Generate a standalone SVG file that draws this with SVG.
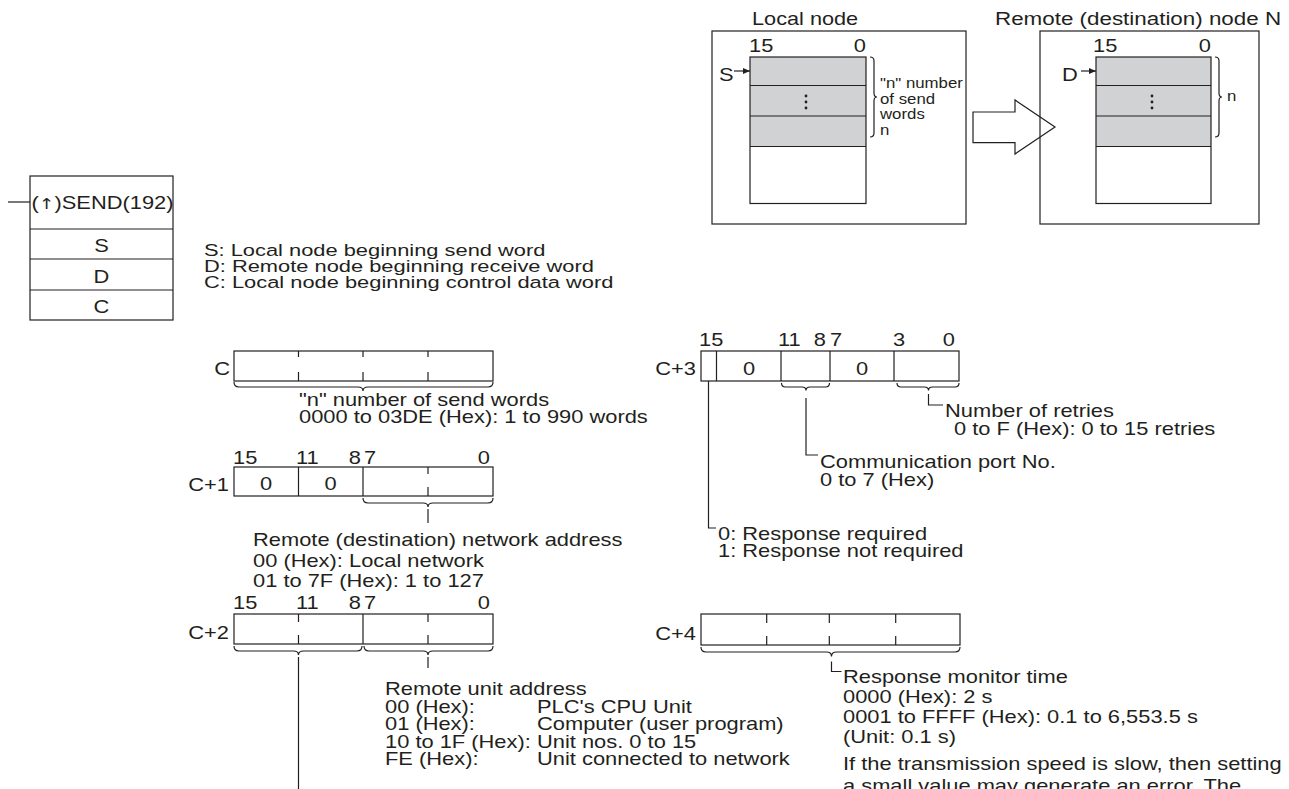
<svg xmlns="http://www.w3.org/2000/svg" width="1289" height="789" viewBox="0 0 1289 789">
<defs>
<style>
.t{font-family:"Liberation Sans",Arial,"DejaVu Sans",sans-serif;font-size:17.5px;fill:#231f20}
.s{font-size:14px}
.d{font-size:16.5px}
.e{text-anchor:end}
.m{text-anchor:middle}
.ln{stroke:#231f20;stroke-width:1.2;fill:none}
.bx{stroke:#231f20;stroke-width:1.2;fill:#fff}
.g{fill:#d1d2d4}
.dot{fill:#231f20}
.ar{font-family:"DejaVu Sans",sans-serif;font-size:15px}
</style>
<marker id="ah" markerWidth="7" markerHeight="6" refX="7" refY="3" orient="auto" markerUnits="userSpaceOnUse"><path d="M0,0 L7,3 L0,6 z" fill="#231f20"/></marker>
</defs>
<rect width="1289" height="789" fill="#fff"/>

<g id="local-node">
<text class="t" transform="translate(752 25) scale(1.24 1)">Local node</text>
<rect class="bx" x="712" y="31" width="254" height="193"/>
<rect class="g" x="750" y="57" width="116" height="89.5"/>
<rect class="ln" x="750" y="57" width="116" height="146.5"/>
<path class="ln" d="M750 85.5H866M750 116H866M750 146.5H866"/>
<text class="t" transform="translate(749 52) scale(1.25 1)">15</text>
<text class="t e" transform="translate(866 52) scale(1.25 1)">0</text>
<text class="t" transform="translate(719 81) scale(1.25 1)">S</text>
<circle class="dot" cx="806" cy="96" r="1.4"/><circle class="dot" cx="806" cy="102" r="1.4"/><circle class="dot" cx="806" cy="108" r="1.4"/>
<path class="ln" d="M870 57Q874 57 874 61L874 93Q874 97 877 97Q874 97 874 101L874 133Q874 137 870 137"/>
<text class="t s" transform="translate(880 88) scale(1.2 1)">"n" number</text>
<text class="t s" transform="translate(880 103.5) scale(1.2 1)">of send</text>
<text class="t s" transform="translate(880 119) scale(1.2 1)">words</text>
<text class="t s" transform="translate(880 135) scale(1.2 1)">n</text>
</g>

<g id="remote-node">
<text class="t" transform="translate(995 25) scale(1.28 1)">Remote (destination) node N</text>
<rect class="ln" x="1040" y="31" width="219" height="193"/>
<rect class="g" x="1096" y="57" width="115" height="89.5"/>
<rect class="ln" x="1096" y="57" width="115" height="146.5"/>
<path class="ln" d="M1096 85.5H1211M1096 116H1211M1096 146.5H1211"/>
<text class="t" transform="translate(1093 52) scale(1.25 1)">15</text>
<text class="t e" transform="translate(1211 52) scale(1.25 1)">0</text>
<text class="t" transform="translate(1062 81) scale(1.25 1)">D</text>
<circle class="dot" cx="1152" cy="96" r="1.4"/><circle class="dot" cx="1152" cy="102" r="1.4"/><circle class="dot" cx="1152" cy="108" r="1.4"/>
<path class="ln" d="M1215 57Q1219 57 1219 61L1219 93Q1219 97 1222 97Q1219 97 1219 101L1219 133Q1219 137 1215 137"/>
<text class="t s" transform="translate(1227 101) scale(1.2 1)">n</text>
</g>

<g id="send-instruction">
<rect class="bx" x="30" y="176" width="143" height="144"/>
<path class="ln" d="M30 229H173M30 259H173M30 290H173"/>
<text class="t" transform="translate(31.5 209) scale(1.25 1)">(<tspan class="ar">↑</tspan>)SEND(192)</text>
<text class="t m" transform="translate(101.5 252) scale(1.25 1)">S</text>
<text class="t m" transform="translate(101.5 282.5) scale(1.25 1)">D</text>
<text class="t m" transform="translate(101.5 313) scale(1.25 1)">C</text>
</g>

<g id="operand-descriptions">
<text class="t d" transform="translate(204 255.5) scale(1.325 1)">S: Local node beginning send word</text>
<text class="t d" transform="translate(204 271.5) scale(1.325 1)">D: Remote node beginning receive word</text>
<text class="t d" transform="translate(204 287.5) scale(1.325 1)">C: Local node beginning control data word</text>
</g>

<g id="word-c">
<text class="t e" transform="translate(230 375) scale(1.25 1)">C</text>
<rect class="ln" x="234" y="351" width="259" height="30"/>
<path class="ln" d="M298.5 351V357M298.5 372V381M363 351V357M363 372V381M428 351V357M428 372V381"/>
<text class="t" transform="translate(299 406) scale(1.25 1)">"n" number of send words</text>
<text class="t" transform="translate(299 423) scale(1.25 1)">0000 to 03DE (Hex): 1 to 990 words</text>
</g>

<g id="word-c1">
<text class="t" transform="translate(233 464) scale(1.25 1)">15</text>
<text class="t" transform="translate(296 464) scale(1.25 1)">11</text>
<text class="t e" transform="translate(361 464) scale(1.25 1)">8</text>
<text class="t" transform="translate(364 464) scale(1.25 1)">7</text>
<text class="t e" transform="translate(490 464) scale(1.25 1)">0</text>
<text class="t e" transform="translate(229 491) scale(1.25 1)">C+1</text>
<rect class="ln" x="234" y="467" width="259" height="29"/>
<path class="ln" d="M298.5 467V496M363 467V496M428 467V474M428 487V496"/>
<text class="t m" transform="translate(266 490) scale(1.25 1)">0</text>
<text class="t m" transform="translate(330.5 490) scale(1.25 1)">0</text>
<text class="t" transform="translate(253 546) scale(1.25 1)">Remote (destination) network address</text>
<text class="t" transform="translate(253 566.5) scale(1.25 1)">00 (Hex): Local network</text>
<text class="t" transform="translate(253 587) scale(1.25 1)">01 to 7F (Hex): 1 to 127</text>
</g>

<g id="word-c2">
<text class="t" transform="translate(233 609) scale(1.25 1)">15</text>
<text class="t" transform="translate(296 609) scale(1.25 1)">11</text>
<text class="t e" transform="translate(361 609) scale(1.25 1)">8</text>
<text class="t" transform="translate(364 609) scale(1.25 1)">7</text>
<text class="t e" transform="translate(490 609) scale(1.25 1)">0</text>
<text class="t e" transform="translate(229 639) scale(1.25 1)">C+2</text>
<rect class="ln" x="234" y="614" width="259" height="30"/>
<path class="ln" d="M363 614V644M298.5 614V622M298.5 635V644M428 614V622M428 635V644"/>
<text class="t" transform="translate(385 695) scale(1.25 1)">Remote unit address</text>
<text class="t" transform="translate(385 712.5) scale(1.25 1)">00 (Hex):</text>
<text class="t" transform="translate(385 730) scale(1.25 1)">01 (Hex):</text>
<text class="t" transform="translate(385 747.5) scale(1.25 1)">10 to 1F (Hex):</text>
<text class="t" transform="translate(385 765) scale(1.25 1)">FE (Hex):</text>
<text class="t" transform="translate(537 712.5) scale(1.25 1)">PLC's CPU Unit</text>
<text class="t" transform="translate(537 730) scale(1.25 1)">Computer (user program)</text>
<text class="t" transform="translate(537 747.5) scale(1.25 1)">Unit nos. 0 to 15</text>
<text class="t" transform="translate(537 765) scale(1.25 1)">Unit connected to network</text>
</g>

<g id="word-c3">
<text class="t" transform="translate(699 346) scale(1.25 1)">15</text>
<text class="t" transform="translate(778 346) scale(1.25 1)">11</text>
<text class="t e" transform="translate(826 346) scale(1.25 1)">8</text>
<text class="t" transform="translate(830 346) scale(1.25 1)">7</text>
<text class="t" transform="translate(893 346) scale(1.25 1)">3</text>
<text class="t e" transform="translate(955 346) scale(1.25 1)">0</text>
<text class="t e" transform="translate(696 375) scale(1.25 1)">C+3</text>
<rect class="ln" x="701" y="351" width="258" height="30"/>
<path class="ln" d="M716.5 351V381M781 351V381M830 351V381M894 351V381"/>
<text class="t m" transform="translate(749 375) scale(1.25 1)">0</text>
<text class="t m" transform="translate(862 375) scale(1.25 1)">0</text>
<text class="t" transform="translate(945 417) scale(1.25 1)">Number of retries</text>
<text class="t" transform="translate(954 435) scale(1.25 1)">0 to F (Hex): 0 to 15 retries</text>
<text class="t" transform="translate(820 468) scale(1.25 1)">Communication port No.</text>
<text class="t" transform="translate(820 486) scale(1.25 1)">0 to 7 (Hex)</text>
<text class="t" transform="translate(718 540) scale(1.25 1)">0: Response required</text>
<text class="t" transform="translate(718 557) scale(1.25 1)">1: Response not required</text>
</g>

<g id="word-c4">
<text class="t e" transform="translate(696 640) scale(1.25 1)">C+4</text>
<rect class="ln" x="701" y="614" width="259" height="31"/>
<path class="ln" d="M766.7 614V623M766.7 636V645M829.3 614V623M829.3 636V645M895.7 614V623M895.7 636V645"/>
<text class="t" transform="translate(843 683) scale(1.25 1)">Response monitor time</text>
<text class="t" transform="translate(843 703) scale(1.25 1)">0000 (Hex): 2 s</text>
<text class="t" transform="translate(843 723) scale(1.25 1)">0001 to FFFF (Hex): 0.1 to 6,553.5 s</text>
<text class="t" transform="translate(843 743) scale(1.25 1)">(Unit: 0.1 s)</text>
<text class="t" transform="translate(843 770) scale(1.25 1)">If the transmission speed is slow, then setting</text>
<text class="t" transform="translate(843 792) scale(1.25 1)">a small value may generate an error. The</text>
</g>

<g id="connectors">
<polygon class="ln" points="973,112 1015,112 1015,100 1055,127 1015,154 1015,142.7 973,142.7"/>
<line class="ln" x1="734" y1="71" x2="750" y2="71" marker-end="url(#ah)"/>
<line class="ln" x1="1081" y1="71" x2="1096" y2="71" marker-end="url(#ah)"/>
<line class="ln" x1="8" y1="202" x2="30" y2="202"/>
<path class="ln" d="M234 382Q234 387 239 387L358 387Q363 387 363 391Q363 387 368 387L488 387Q493 387 493 382"/>
<path class="ln" d="M363 498Q363 503 368 503L423 503Q428 503 428 507Q428 503 433 503L488 503Q493 503 493 498"/>
<path class="ln" d="M428 509V523"/>
<path class="ln" d="M234 646Q234 651 239 651L293.5 651Q298.5 651 298.5 655Q298.5 651 303.5 651L357 651Q362 651 362 646"/>
<path class="ln" d="M364 646Q364 651 369 651L423 651Q428 651 428 655Q428 651 433 651L488 651Q493 651 493 646"/>
<path class="ln" d="M298.5 657V789M428 657V668"/>
<path class="ln" d="M781.5 383Q781.5 387 785.5 387L802 387Q806 387 806 390.5Q806 387 810 387L825.5 387Q829.5 387 829.5 383"/>
<path class="ln" d="M897 383Q897 387 901 387L924.5 387Q928.5 387 928.5 390.5Q928.5 387 932.5 387L955 387Q959 387 959 383"/>
<path class="ln" d="M928.5 394V405H943M806 398V455H818M708.5 381V528H716"/>
<path class="ln" d="M701 647Q701 652 706 652L826.5 652Q831.5 652 831.5 656.5Q831.5 652 836.5 652L955 652Q960 652 960 647"/>
<path class="ln" d="M831.5 661.5V671.5H841.5"/>
</g>
</svg>
